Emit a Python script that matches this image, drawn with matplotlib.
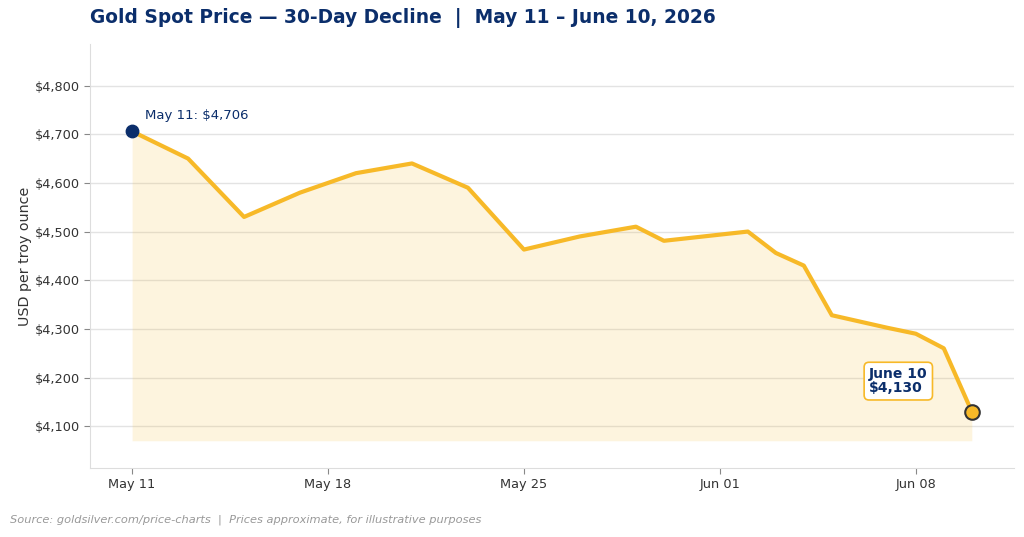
import matplotlib
matplotlib.use("Agg")
import matplotlib.pyplot as plt
import matplotlib.dates as mdates
import matplotlib.ticker as mticker
import numpy as np

# data
dates = ["2026-05-11", "2026-05-13", "2026-05-15", "2026-05-17", "2026-05-19",
         "2026-05-21", "2026-05-23", "2026-05-25", "2026-05-27", "2026-05-29",
         "2026-05-30", "2026-06-02", "2026-06-03", "2026-06-04", "2026-06-05",
         "2026-06-07", "2026-06-08", "2026-06-09", "2026-06-10"]
prices = [4706, 4650, 4530, 4580, 4620, 4640, 4590, 4463, 4490, 4510,
          4481, 4500, 4456, 4430, 4328, 4302, 4290, 4260, 4130]
tick_dates = ["2026-05-11", "2026-05-18", "2026-05-25", "2026-06-01", "2026-06-08"]

gold = "#F7B928"
navy = "#0B2E6B"

x = np.array(dates, dtype="datetime64[D]").astype("O")
y = np.array(prices)
fill_base = y.min() - 60

fig = plt.figure(figsize=(10.24, 5.37), dpi=100)
ax = fig.add_axes([0.088, 0.1285, 0.902, 0.79])

ax.fill_between(x, y, fill_base, color=gold, alpha=0.15, linewidth=0)
ax.plot(x, y, color=gold, linewidth=3, zorder=3)

ax.scatter([x[0]], [y[0]], s=80, color=navy, zorder=4)
ax.scatter([x[-1]], [y[-1]], s=110, color=gold, edgecolor="#333333", linewidth=1.5, zorder=4)

ax.annotate(f"May 11: ${y[0]:,}", xy=(x[0], y[0]), xytext=(9, 9),
            textcoords="offset points", fontsize=9.5, color=navy)
ax.annotate(f"June 10\n${y[-1]:,}", xy=(x[-1], y[-1]), xytext=(-74, 14),
            textcoords="offset points", fontsize=10, fontweight="bold", color=navy,
            linespacing=1.0,
            bbox=dict(boxstyle="round,pad=0.35", fc="white", ec=gold, lw=1.2))

ax.set_xlim(mdates.date2num(x[0]) - 1.5, mdates.date2num(x[-1]) + 1.5)
ax.set_ylim(4014, 4886)
ax.set_xticks([mdates.date2num(np.datetime64(d, "D").astype("O")) for d in tick_dates])
ax.xaxis.set_major_formatter(mdates.DateFormatter("%b %d"))
ax.yaxis.set_major_locator(mticker.MultipleLocator(100))
ax.yaxis.set_major_formatter(mticker.FuncFormatter(lambda v, p: f"${v:,.0f}"))
ax.set_ylabel("USD per troy ounce", fontsize=10.3, color="#333333", labelpad=2)

ax.grid(axis="y", color="#e3e3e3", linewidth=1)
ax.set_axisbelow(True)
for s in ["top", "right"]:
    ax.spines[s].set_visible(False)
for s in ["left", "bottom"]:
    ax.spines[s].set_color("#dddddd")
ax.tick_params(colors="#333333", labelsize=9.3)
ax.tick_params(axis="both", color="#888888", length=4)

fig.text(0.088, 0.966, "Gold Spot Price \u2014 30-Day Decline  |  May 11 \u2013 June 10, 2026",
         fontsize=13.4, fontweight="bold", color=navy, ha="left", va="center")
fig.text(0.01, 0.032, "Source: goldsilver.com/price-charts  |  Prices approximate, for illustrative purposes",
         fontsize=8.2, style="italic", color="#999999", ha="left", va="center")

fig.savefig("out.png", dpi=100)
